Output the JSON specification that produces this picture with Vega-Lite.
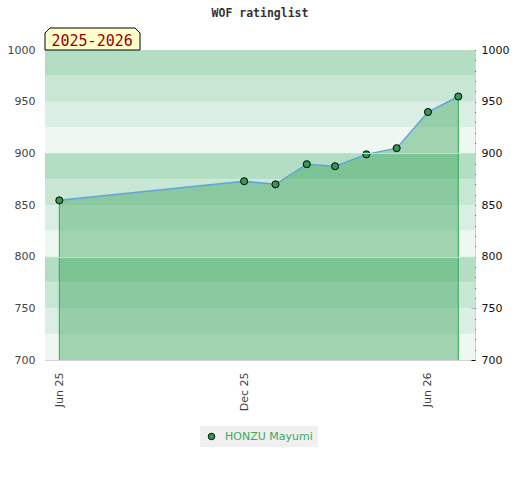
{
  "$schema": "https://vega.github.io/schema/vega-lite/v6.json",
  "width": 430,
  "height": 310,
  "autosize": {"type": "none"},
  "padding": {"left": 45, "top": 50, "right": 45, "bottom": 120},
  "background": "white",
  "config": {
    "view": {"stroke": "#d2d2d2", "strokeWidth": 1},
    "font": "DejaVu Sans",
    "axis": {"labelFont": "DejaVu Sans", "labelFontSize": 11},
    "axisX": {
      "title": null,
      "format": "%b %y",
      "labelAngle": 270,
      "labelPadding": 12,
      "labelColor": "#444444",
      "labelFontSize": 11,
      "labelFlush": false,
      "labelOverlap": false,
      "ticks": false,
      "domain": false,
      "grid": false
    }
  },
  "title": {
    "text": "WOF ratinglist",
    "font": "DejaVu Sans Mono",
    "fontSize": 11.5,
    "fontWeight": "bold",
    "color": "#333333",
    "anchor": "middle",
    "offset": 7
  },
  "datasets": {
    "bands": [
      {"lo": 975, "hi": 1000, "shade": "s1"},
      {"lo": 950, "hi": 975, "shade": "s2"},
      {"lo": 925, "hi": 950, "shade": "s3"},
      {"lo": 900, "hi": 925, "shade": "s4"},
      {"lo": 875, "hi": 900, "shade": "s1"},
      {"lo": 850, "hi": 875, "shade": "s2"},
      {"lo": 825, "hi": 850, "shade": "s3"},
      {"lo": 800, "hi": 825, "shade": "s4"},
      {"lo": 775, "hi": 800, "shade": "s1"},
      {"lo": 750, "hi": 775, "shade": "s2"},
      {"lo": 725, "hi": 750, "shade": "s3"},
      {"lo": 700, "hi": 725, "shade": "s4"}
    ],
    "ratings": [
      {"date": "2025-06-01", "rating": 854.5, "player": "HONZU Mayumi"},
      {"date": "2025-12-01", "rating": 873, "player": "HONZU Mayumi"},
      {"date": "2026-01-01", "rating": 870, "player": "HONZU Mayumi"},
      {"date": "2026-02-01", "rating": 889.5, "player": "HONZU Mayumi"},
      {"date": "2026-03-01", "rating": 887.5, "player": "HONZU Mayumi"},
      {"date": "2026-04-01", "rating": 899, "player": "HONZU Mayumi"},
      {"date": "2026-05-01", "rating": 905, "player": "HONZU Mayumi"},
      {"date": "2026-06-01", "rating": 940, "player": "HONZU Mayumi"},
      {"date": "2026-07-01", "rating": 955, "player": "HONZU Mayumi"}
    ],
    "season": [{"label": "2025-2026"}]
  },
  "layer": [
    {
      "data": {"name": "bands"},
      "mark": {"type": "rect"},
      "encoding": {
        "y": {
          "field": "lo",
          "type": "quantitative",
          "scale": {"domain": [700, 1000], "nice": false, "zero": false},
          "axis": {
            "orient": "left",
            "title": null,
            "values": [700, 750, 800, 850, 900, 950, 1000],
            "format": "d",
            "domain": false,
            "ticks": false,
            "labelPadding": 10,
            "labelColor": "#444444",
            "labelFontSize": 11,
            "grid": true,
            "gridColor": "#d6d6d6",
            "gridOpacity": {"condition": {"test": "datum.value === 800 || datum.value === 900", "value": 1}, "value": 0},
            "zindex": 1
          }
        },
        "y2": {"field": "hi"},
        "color": {
          "field": "shade",
          "type": "nominal",
          "scale": {"domain": ["s1", "s2", "s3", "s4"], "range": ["#b3dec4", "#c8e6d4", "#dbeee3", "#eff7f1"]},
          "legend": null
        }
      }
    },
    {
      "data": {"name": "ratings"},
      "mark": {"type": "area", "fill": "#2e9e50", "fillOpacity": 0.4, "stroke": null},
      "encoding": {
        "x": {
          "field": "date",
          "type": "temporal",
          "title": null,
          "scale": {
            "domain": [
              {"year": 2025, "month": 5, "date": 17, "hours": 20},
              {"year": 2026, "month": 7, "date": 17, "hours": 13}
            ]
          },
          "axis": {"values": [{"year": 2025, "month": 6, "date": 1}, {"year": 2025, "month": 12, "date": 1}, {"year": 2026, "month": 6, "date": 1}]}
        },
        "y": {"field": "rating", "type": "quantitative", "scale": {"domain": [700, 1000], "nice": false, "zero": false}, "axis": null},
        "y2": {"datum": 700}
      }
    },
    {
      "data": {"name": "ratings"},
      "transform": [{"filter": "datum.rating === 854.5 || datum.rating === 955"}],
      "mark": {"type": "rule", "color": "#2eaa55", "strokeWidth": 1},
      "encoding": {
        "x": {"field": "date", "type": "temporal", "title": null, "axis": {"values": [{"year": 2025, "month": 6, "date": 1}, {"year": 2025, "month": 12, "date": 1}, {"year": 2026, "month": 6, "date": 1}]}},
        "y": {"field": "rating", "type": "quantitative", "scale": {"domain": [700, 1000], "nice": false, "zero": false}, "axis": null},
        "y2": {"datum": 700}
      }
    },
    {
      "data": {"name": "ratings"},
      "mark": {"type": "line", "color": "#5fa3dc", "strokeWidth": 1.5},
      "encoding": {
        "x": {"field": "date", "type": "temporal", "title": null, "axis": {"values": [{"year": 2025, "month": 6, "date": 1}, {"year": 2025, "month": 12, "date": 1}, {"year": 2026, "month": 6, "date": 1}]}},
        "y": {
          "field": "rating",
          "type": "quantitative",
          "scale": {"domain": [700, 1000], "nice": false, "zero": false},
          "axis": {
            "orient": "right",
            "title": null,
            "values": [700, 710, 720, 730, 740, 750, 760, 770, 780, 790, 800, 810, 820, 830, 840, 850, 860, 870, 880, 890, 900, 910, 920, 930, 940, 950, 960, 970, 980, 990, 1000],
            "labelExpr": "datum.value % 50 === 0 ? datum.label : ''",
            "format": "d",
            "labelOverlap": false,
            "labelColor": "#111111",
            "labelFontSize": 11,
            "labelPadding": 10,
            "tickSize": -4,
            "tickColor": "#000000",
            "domain": false,
            "grid": false
          }
        }
      }
    },
    {
      "data": {"name": "ratings"},
      "mark": {"type": "point", "filled": true, "stroke": "#000000", "strokeWidth": 1, "size": 50, "opacity": 1, "shape": "circle"},
      "encoding": {
        "x": {"field": "date", "type": "temporal", "title": null, "axis": {"values": [{"year": 2025, "month": 6, "date": 1}, {"year": 2025, "month": 12, "date": 1}, {"year": 2026, "month": 6, "date": 1}]}},
        "y": {"field": "rating", "type": "quantitative", "scale": {"domain": [700, 1000], "nice": false, "zero": false}, "axis": null},
        "color": {
          "field": "player",
          "type": "nominal",
          "scale": {"range": ["#339955"]},
          "legend": {
            "title": null,
            "orient": "none",
            "legendX": 155,
            "legendY": 376,
            "fillColor": "#f0f0f0",
            "padding": 5,
            "labelColor": "#3aa860",
            "labelFont": "DejaVu Sans",
            "labelFontSize": 11,
            "symbolType": "circle",
            "symbolSize": 42,
            "symbolStrokeColor": "#000000",
            "symbolStrokeWidth": 1,
            "symbolFillColor": "#339955",
            "symbolOffset": 1,
            "labelOffset": 8
          }
        }
      }
    },
    {
      "data": {"name": "season"},
      "mark": {"type": "point", "shape": "M0,0 L0,-0.358 L0.105,-0.463 L1.895,-0.463 L2,-0.358 L2,0 Z", "size": 9025, "filled": true, "fill": "#ffffcc", "stroke": "#000000", "strokeWidth": 1, "opacity": 1},
      "encoding": {
        "x": {"datum": {"year": 2025, "month": 5, "date": 17, "hours": 20}, "type": "temporal", "title": null, "axis": {"values": [{"year": 2025, "month": 6, "date": 1}, {"year": 2025, "month": 12, "date": 1}, {"year": 2026, "month": 6, "date": 1}]}},
        "y": {"datum": 1000, "type": "quantitative", "scale": {"domain": [700, 1000], "nice": false, "zero": false}, "axis": null}
      }
    },
    {
      "data": {"name": "season"},
      "mark": {"type": "text", "align": "left", "baseline": "alphabetic", "dx": 6.5, "dy": -4.5, "font": "DejaVu Sans Mono", "fontSize": 15, "color": "#990000"},
      "encoding": {
        "x": {"datum": {"year": 2025, "month": 5, "date": 17, "hours": 20}, "type": "temporal", "title": null, "axis": {"values": [{"year": 2025, "month": 6, "date": 1}, {"year": 2025, "month": 12, "date": 1}, {"year": 2026, "month": 6, "date": 1}]}},
        "y": {"datum": 1000, "type": "quantitative", "scale": {"domain": [700, 1000], "nice": false, "zero": false}, "axis": null},
        "text": {"field": "label"}
      }
    }
  ],
  "resolve": {"scale": {"y": "independent", "color": "independent"}}
}
